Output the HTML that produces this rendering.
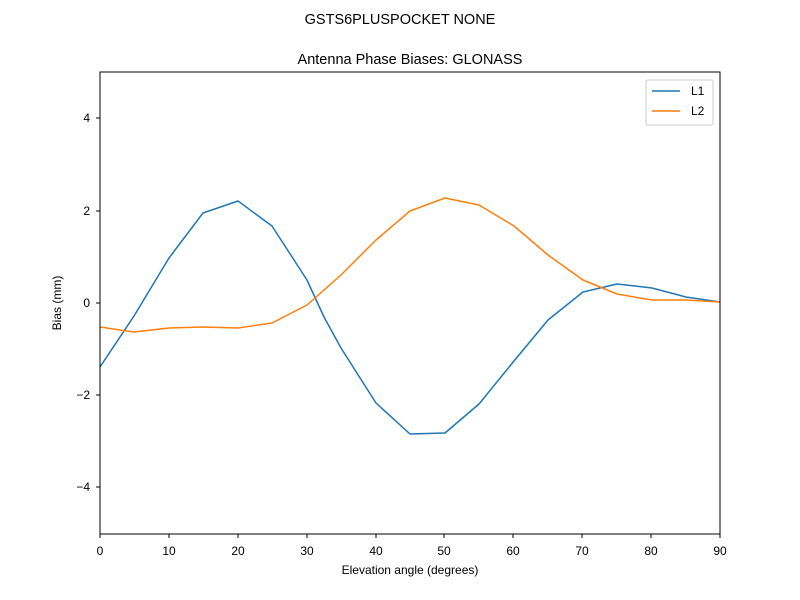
<!DOCTYPE html>
<html><head><style>body{margin:0;background:#fff}svg{display:block}text{font-family:"Liberation Sans","DejaVu Sans",sans-serif;fill:#000}</style></head>
<body>
<svg width="800" height="600" viewBox="0 0 800 600" xmlns="http://www.w3.org/2000/svg">
<rect width="800" height="600" fill="#fff"/>
<text x="400" y="24" font-size="14.5" text-anchor="middle">GSTS6PLUSPOCKET NONE</text>
<text x="410" y="64" font-size="14.5" text-anchor="middle">Antenna Phase Biases: GLONASS</text>
<g stroke="#000" stroke-width="1">
<line x1="100" y1="534" x2="100" y2="538"/><line x1="169" y1="534" x2="169" y2="538"/><line x1="238" y1="534" x2="238" y2="538"/><line x1="307" y1="534" x2="307" y2="538"/><line x1="376" y1="534" x2="376" y2="538"/><line x1="444" y1="534" x2="444" y2="538"/><line x1="513" y1="534" x2="513" y2="538"/><line x1="582" y1="534" x2="582" y2="538"/><line x1="651" y1="534" x2="651" y2="538"/><line x1="720" y1="534" x2="720" y2="538"/>
<line x1="96" y1="118" x2="100" y2="118"/><line x1="96" y1="211" x2="100" y2="211"/><line x1="96" y1="303" x2="100" y2="303"/><line x1="96" y1="395" x2="100" y2="395"/><line x1="96" y1="487" x2="100" y2="487"/>
</g>
<g font-size="12" text-anchor="middle">
<text x="100" y="555">0</text><text x="169" y="555">10</text><text x="238" y="555">20</text><text x="307" y="555">30</text><text x="376" y="555">40</text><text x="444" y="555">50</text><text x="513" y="555">60</text><text x="582" y="555">70</text><text x="651" y="555">80</text><text x="720" y="555">90</text>
</g>
<g font-size="12" text-anchor="end">
<text x="90" y="122">4</text><text x="90" y="215">2</text><text x="90" y="307">0</text><text x="90" y="399">−2</text><text x="90" y="491">−4</text>
</g>
<text x="410" y="574" font-size="12" text-anchor="middle">Elevation angle (degrees)</text>
<text x="61" y="303" font-size="12" text-anchor="middle" transform="rotate(-90 61 303)">Bias (mm)</text>
<svg x="100" y="72" width="620" height="462" overflow="hidden">
<g transform="translate(-100,-72)" fill="none" stroke-width="1.5" stroke-linejoin="round">
<polyline stroke="#1f77b4" points="100,367 134,316 169,258 203,213 238,201 272,226 307,280 324,317 341,348 376,403 410,434 445,433 479,404 514,361 548,320 583,292 617,284 652,288 686,297 720,302"/>
<polyline stroke="#ff7f0e" points="100,327 134,332 169,328 203,327 238,328 272,323 307,305 341,275 376,240 410,211 445,198 479,205 514,226 548,255 583,280 617,294 652,300 686,300 720,302"/>
</g></svg>
<rect x="100" y="72" width="620" height="462" fill="none" stroke="#000" stroke-width="1"/>
<rect x="646" y="80" width="67" height="45" rx="2" fill="#fff" stroke="#ccc"/>
<line x1="652" y1="91" x2="680" y2="91" stroke="#1f77b4" stroke-width="1.5"/>
<line x1="652" y1="111" x2="680" y2="111" stroke="#ff7f0e" stroke-width="1.5"/>
<text x="691" y="95" font-size="12">L1</text>
<text x="691" y="115" font-size="12">L2</text>
</svg>
</body></html>
